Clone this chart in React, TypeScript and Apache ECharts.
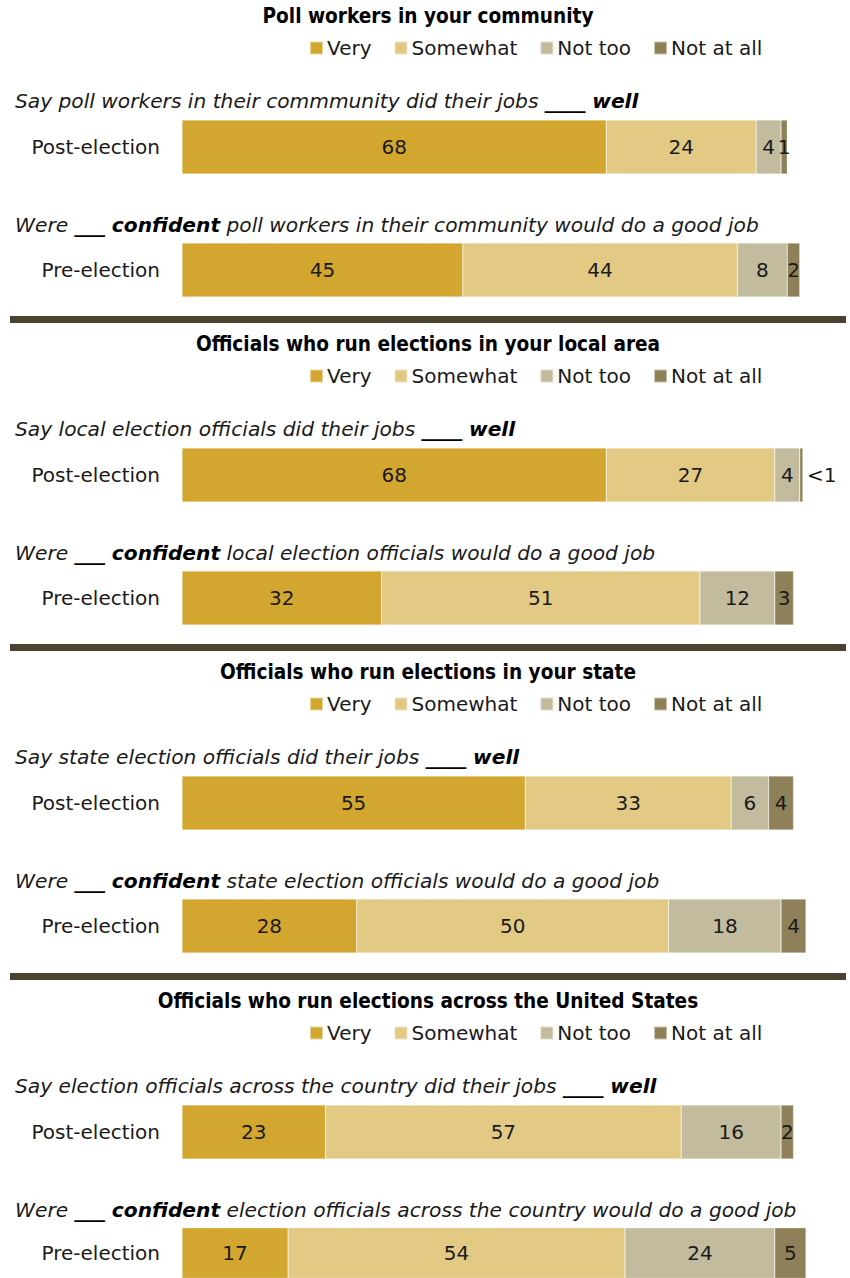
import React, { useEffect, useRef } from "react";
import * as echarts from "echarts";

const categories = ["Very", "Somewhat", "Not too", "Not at all"];
const colors = ["#D3A62F", "#E2CA85", "#C2BB9E", "#8E8159"];

const panelTitles = [
  "Poll workers in your community",
  "Officials who run elections in your local area",
  "Officials who run elections in your state",
  "Officials who run elections across the United States",
];

const rowLabels = ["Post-election", "Pre-election"];

// subtitle parts: [italic prefix, bold italic, italic suffix]
const subtitles = [
  ["Say poll workers in their commmunity did their jobs ", "____ well", ""],
  ["Were ", "___ confident", " poll workers in their community would do a good job"],
  ["Say local election officials did their jobs ", "____ well", ""],
  ["Were ", "___ confident", " local election officials would do a good job"],
  ["Say state election officials did their jobs ", "____ well", ""],
  ["Were ", "___ confident", " state election officials would do a good job"],
  ["Say election officials across the country did their jobs ", "____ well", ""],
  ["Were ", "___ confident", " election officials across the country would do a good job"],
];

// rows in order: P1 post, P1 pre, P2 post, P2 pre, P3 post, P3 pre, P4 post, P4 pre
const veryValues = [68, 45, 68, 32, 55, 28, 23, 17];
const somewhatValues = [24, 44, 27, 51, 33, 50, 57, 54];
const notTooValues = [4, 8, 4, 12, 6, 18, 16, 24];
const notAtAllValues = [1, 2, 0.5, 3, 4, 4, 2, 5];
const notAtAllLabels = ["1", "2", "<1", "3", "4", "4", "2", "5"];

const FONT = "DejaVu Sans";
const TEXT = "#1a1a1a";

export default function App() {
  const ref = useRef<HTMLDivElement>(null);

  useEffect(() => {
    if (!ref.current) return;
    const chart = echarts.init(ref.current, null, { renderer: "svg" });

    const panelOffsets = [0, 328, 656, 985];
    const barTops = [120, 243];
    const subtitleYs = [101, 225];
    const barH = 54;

    const grids: any[] = [];
    const xAxes: any[] = [];
    const yAxes: any[] = [];
    const series: any[] = [];
    const legends: any[] = [];
    const graphics: any[] = [];

    const valueSets = [veryValues, somewhatValues, notTooValues, notAtAllValues];

    panelOffsets.forEach((off, p) => {
      graphics.push({
        type: "text",
        x: 428,
        y: 16 + off,
        style: {
          text: panelTitles[p],
          fill: "#000",
          font: `bold 20.6px "DejaVu Sans Condensed", "DejaVu Sans"`,
          textAlign: "center",
          textVerticalAlign: "middle",
        },
      });
      legends.push({
        data: categories,
        left: 309,
        top: 38 + off,
        padding: 0,
        itemWidth: 13,
        itemHeight: 13,
        itemGap: 22,
        icon: "rect",
        selectedMode: false,
        textStyle: { fontFamily: FONT, fontSize: 20, color: TEXT, padding: [0, 0, 0, -1] },
      });
      if (p > 0) {
        graphics.push({
          type: "rect",
          shape: { x: 10, y: off - 12, width: 836, height: 7 },
          style: { fill: "#4A4330" },
        });
      }
      for (let r = 0; r < 2; r++) {
        const idx = p * 2 + r;
        const parts = subtitles[idx];
        let txt = "";
        if (parts[0]) txt += `{i|${parts[0]}}`;
        if (parts[1]) txt += `{b|${parts[1]}}`;
        if (parts[2]) txt += `{i|${parts[2]}}`;
        graphics.push({
          type: "text",
          x: 15,
          y: subtitleYs[r] + off,
          style: {
            text: txt,
            textVerticalAlign: "middle",
            rich: {
              i: { fontFamily: FONT, fontSize: 20.2, fontStyle: "italic", fill: TEXT },
              b: { fontFamily: FONT, fontSize: 20.2, fontStyle: "italic", fontWeight: "bold", fill: "#000" },
            },
          },
        });
        grids.push({ left: 182, width: 624, top: barTops[r] + off, height: barH });
        xAxes.push({ type: "value", gridIndex: idx, min: 0, max: 100, show: false });
        yAxes.push({
          type: "category",
          gridIndex: idx,
          data: [rowLabels[r]],
          axisLine: { show: false },
          axisTick: { show: false },
          axisLabel: { fontFamily: FONT, fontSize: 20, color: TEXT, margin: 22 },
        });
        categories.forEach((c, k) => {
          const v = valueSets[k][idx];
          const isSmallOut = k === 3 && notAtAllLabels[idx] === "<1";
          series.push({
            type: "bar",
            name: c,
            xAxisIndex: idx,
            yAxisIndex: idx,
            stack: "s" + idx,
            barWidth: barH,
            data: [v],
            itemStyle: { color: colors[k], borderColor: "rgba(255,255,255,0.5)", borderWidth: 0.5 },
            label: {
              show: true,
              position: isSmallOut ? "right" : "inside",
              distance: 4,
              formatter: k === 3 ? notAtAllLabels[idx] : String(v),
              fontFamily: FONT,
              fontSize: 20,
              color: TEXT,
            },
          });
        });
      }
    });

    chart.setOption({
      animation: false,
      legend: legends,
      grid: grids,
      xAxis: xAxes,
      yAxis: yAxes,
      series,
      graphic: graphics,
    });

    return () => chart.dispose();
  }, []);

  return (
    <div
      ref={ref}
      style={{ position: "absolute", left: 0, top: 0, width: 850, height: 1278, background: "#fff" }}
    />
  );
}
